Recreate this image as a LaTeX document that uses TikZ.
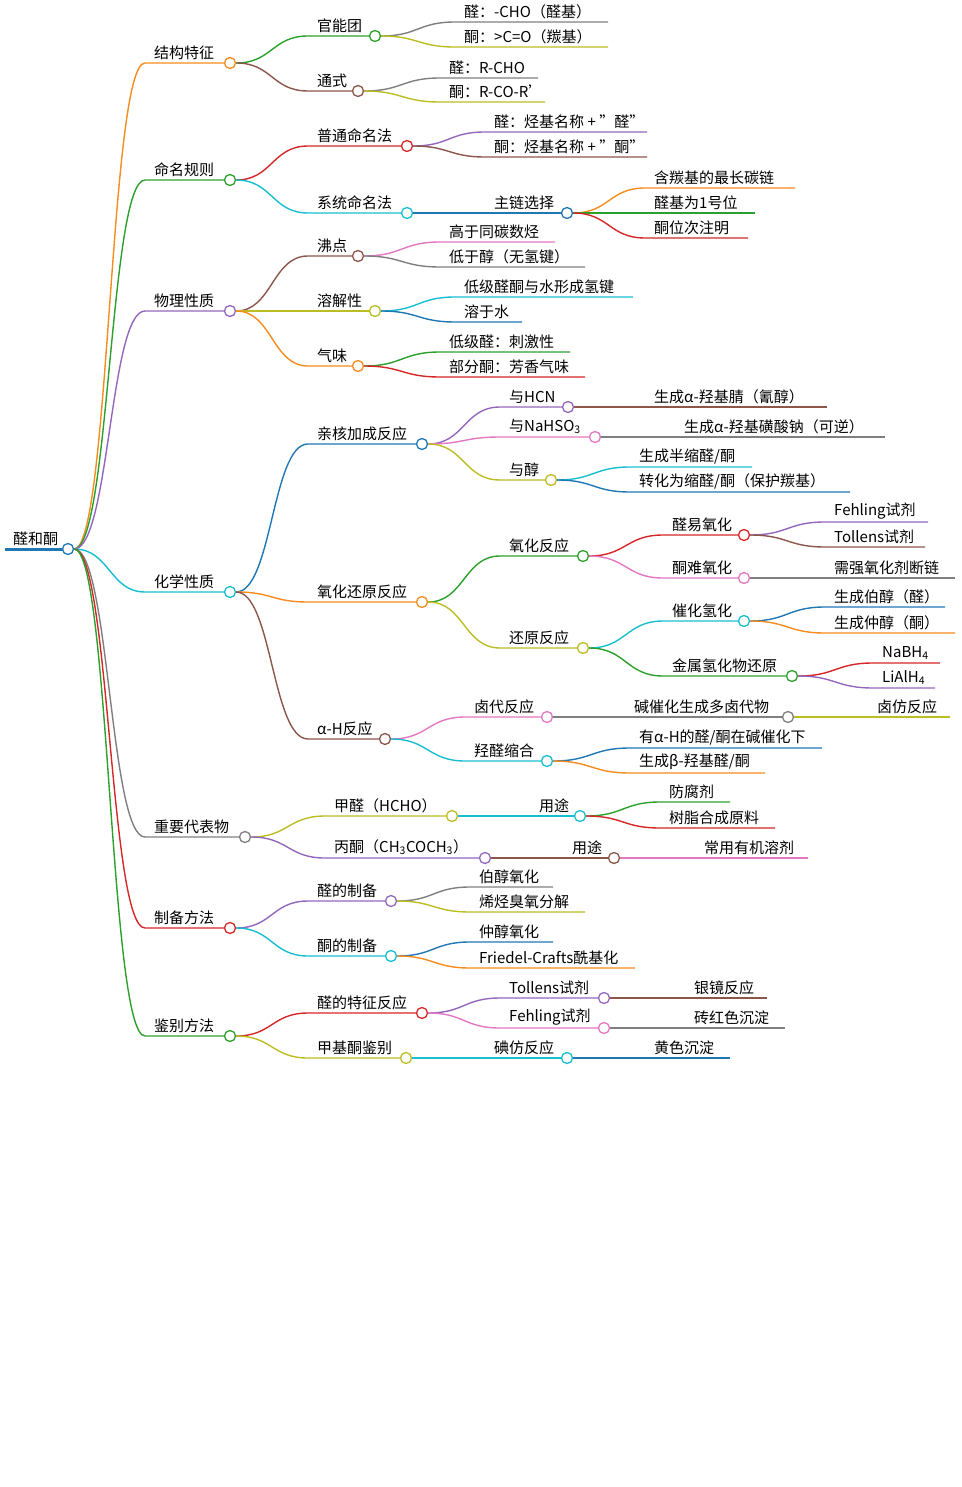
\documentclass[tikz,border=0pt]{standalone}
\usepackage{fontspec}
\setmainfont{Noto Sans CJK SC}
\usetikzlibrary{calc}

\definecolor{torange}{RGB}{245,140,30}
\definecolor{tgreen}{RGB}{44,160,44}
\definecolor{tpurple}{RGB}{148,103,189}
\definecolor{tcyan}{RGB}{23,190,207}
\definecolor{tgray}{RGB}{127,127,127}
\definecolor{tred}{RGB}{214,39,40}
\definecolor{tolive}{RGB}{188,189,34}
\definecolor{tbrown}{RGB}{140,86,75}
\definecolor{tblue}{RGB}{31,119,180}
\definecolor{tpink}{RGB}{227,119,194}

\tikzset{
  lbl/.style={font=\fontsize{15}{18}\selectfont, inner sep=1pt, anchor=south west},
  edge/.style={line width=1.4pt},
  dot/.style={circle, draw=#1, fill=white, line width=1.3pt, minimum size=11pt, inner sep=0pt}
}

% #1 name, #2 parent, #3 colour, #4 x start, #5 x end, #6 y, #7 text
\newcommand\mmleaf[7]{%
  \coordinate (#1-s) at (#4,#6);
  \coordinate (#1-e) at (#5,#6);
  \node[lbl] (#1-t) at (#4+8,#6-2) {#7};
  \draw[#3, edge] let \p1=(#2.east), \p2=(#1-s) in
    (\p1) .. controls (\x1*0.5+\x2*0.5,\y1) and (\x1*0.5+\x2*0.5,\y2) .. (#1-s) -- (#1-e);
}
\newcommand\mmbranch[7]{%
  \mmleaf{#1}{#2}{#3}{#4}{#5}{#6}{#7}
  \node[dot=#3] (#1) at (#1-e) {};
}
\newcommand\qq{\symbol{34}}

\begin{document}
\begin{tikzpicture}[x=1pt, y=-1pt]
  \useasboundingbox (0,0) rectangle (961,1487);

  % root
  \coordinate (root-s) at (5,549);
  \draw[tblue, line width=3pt] (root-s) -- (68,549);
  \node[lbl] (root-t) at (12,547) {醛和酮};
  \node[dot=tblue] (root) at (68,549) {};

  % level 1
  \mmbranch{jgtz}{root}{torange}{145}{230}{63}{结构特征}
  \mmbranch{mmgz}{root}{tgreen}{145}{230}{180}{命名规则}
  \mmbranch{wlxz}{root}{tpurple}{145}{230}{311}{物理性质}
  \mmbranch{hxxz}{root}{tcyan}{145}{230}{592}{化学性质}
  \mmbranch{zydb}{root}{tgray}{145}{245}{837}{重要代表物}
  \mmbranch{zbff}{root}{tred}{145}{230}{928}{制备方法}
  \mmbranch{jbff}{root}{tgreen}{145}{230}{1036}{鉴别方法}

  % structure
  \mmbranch{gnt}{jgtz}{tgreen}{308}{375}{36}{官能团}
  \mmbranch{tsh}{jgtz}{tbrown}{308}{358}{91}{通式}
  \mmleaf{a1}{gnt}{tgray}{455}{608}{22}{醛：-CHO（醛基）}
  \mmleaf{a2}{gnt}{tolive}{455}{608}{47}{酮：>C=O（羰基）}
  \mmleaf{a3}{tsh}{tgray}{440}{538}{78}{醛：R-CHO}
  \mmleaf{a4}{tsh}{tolive}{440}{545}{102}{酮：R-CO-R'}

  % naming
  \mmbranch{ptmm}{mmgz}{tred}{308}{407}{146}{普通命名法}
  \mmbranch{xtmm}{mmgz}{tcyan}{308}{407}{213}{系统命名法}
  \mmleaf{b1}{ptmm}{tpurple}{485}{647}{132}{醛：烃基名称 + \qq 醛\qq}
  \mmleaf{b2}{ptmm}{tbrown}{485}{647}{157}{酮：烃基名称 + \qq 酮\qq}
  \mmbranch{zlxz}{xtmm}{tblue}{485}{567}{213}{主链选择}
  \mmleaf{b3}{zlxz}{torange}{645}{795}{188}{含羰基的最长碳链}
  \mmleaf{b4}{zlxz}{tgreen}{645}{755}{213}{醛基为1号位}
  \mmleaf{b5}{zlxz}{tred}{645}{748}{238}{酮位次注明}

  % physical
  \mmbranch{fd}{wlxz}{tbrown}{308}{358}{256}{沸点}
  \mmbranch{rjx}{wlxz}{tolive}{308}{375}{311}{溶解性}
  \mmbranch{qw}{wlxz}{torange}{308}{358}{366}{气味}
  \mmleaf{c1}{fd}{tpink}{440}{555}{242}{高于同碳数烃}
  \mmleaf{c2}{fd}{tgray}{440}{585}{267}{低于醇（无氢键）}
  \mmleaf{c3}{rjx}{tcyan}{455}{633}{297}{低级醛酮与水形成氢键}
  \mmleaf{c4}{rjx}{tblue}{455}{522}{322}{溶于水}
  \mmleaf{c5}{qw}{tgreen}{440}{570}{352}{低级醛：刺激性}
  \mmleaf{c6}{qw}{tred}{440}{585}{377}{部分酮：芳香气味}

  % chemical
  \mmbranch{hhjc}{hxxz}{tblue}{308}{422}{444}{亲核加成反应}
  \mmbranch{yhhy}{hxxz}{torange}{308}{422}{602}{氧化还原反应}
  \mmbranch{ahfy}{hxxz}{tbrown}{308}{385}{739}{α-H反应}
  \mmbranch{yhcn}{hhjc}{tpurple}{500}{568}{407}{与HCN}
  \mmbranch{ynah}{hhjc}{tpink}{500}{595}{437}{与NaHSO\textsubscript{3}}
  \mmbranch{yc}{hhjc}{tolive}{500}{551}{480}{与醇}
  \mmleaf{d1}{yhcn}{tbrown}{645}{827}{407}{生成α-羟基腈（氰醇）}
  \mmleaf{d2}{ynah}{tgray}{675}{885}{437}{生成α-羟基磺酸钠（可逆）}
  \mmleaf{d3}{yc}{tcyan}{630}{752}{467}{生成半缩醛/酮}
  \mmleaf{d4}{yc}{tblue}{630}{850}{492}{转化为缩醛/酮（保护羰基）}
  \mmbranch{yhfy}{yhhy}{tgreen}{500}{583}{556}{氧化反应}
  \mmbranch{hyfy}{yhhy}{tolive}{500}{583}{648}{还原反应}
  \mmbranch{qyyh}{yhfy}{tred}{663}{744}{535}{醛易氧化}
  \mmbranch{tnyh}{yhfy}{tpink}{663}{744}{578}{酮难氧化}
  \mmleaf{e1}{qyyh}{tpurple}{825}{928}{522}{Fehling试剂}
  \mmleaf{e2}{qyyh}{tbrown}{825}{925}{547}{Tollens试剂}
  \mmleaf{e3}{tnyh}{tgray}{825}{955}{578}{需强氧化剂断链}
  \mmbranch{chqh}{hyfy}{tcyan}{663}{744}{621}{催化氢化}
  \mmbranch{jsqh}{hyfy}{tgreen}{663}{792}{676}{金属氢化物还原}
  \mmleaf{e4}{chqh}{tblue}{825}{945}{607}{生成伯醇（醛）}
  \mmleaf{e5}{chqh}{torange}{825}{955}{633}{生成仲醇（酮）}
  \mmleaf{e6}{jsqh}{tred}{873}{940}{663}{NaBH\textsubscript{4}}
  \mmleaf{e7}{jsqh}{tpurple}{873}{935}{688}{LiAlH\textsubscript{4}}
  \mmbranch{ldfy}{ahfy}{tpink}{465}{547}{717}{卤代反应}
  \mmbranch{qqsh}{ahfy}{tcyan}{465}{547}{761}{羟醛缩合}
  \mmbranch{jcdl}{ldfy}{tgray}{625}{788}{717}{碱催化生成多卤代物}
  \mmleaf{f1}{jcdl}{tolive}{868}{950}{717}{卤仿反应}
  \mmleaf{f2}{qqsh}{tblue}{630}{822}{748}{有α-H的醛/酮在碱催化下}
  \mmleaf{f3}{qqsh}{torange}{630}{765}{773}{生成β-羟基醛/酮}

  % representatives
  \mmbranch{jq}{zydb}{tolive}{325}{452}{816}{甲醛（HCHO）}
  \mmbranch{bt}{zydb}{tpurple}{325}{485}{858}{丙酮（CH\textsubscript{3}COCH\textsubscript{3}）}
  \mmbranch{yt1}{jq}{tcyan}{530}{580}{816}{用途}
  \mmbranch{yt2}{bt}{tbrown}{563}{614}{858}{用途}
  \mmleaf{g1}{yt1}{tgreen}{660}{730}{802}{防腐剂}
  \mmleaf{g2}{yt1}{tred}{660}{775}{828}{树脂合成原料}
  \mmleaf{g3}{yt2}{tpink}{695}{808}{858}{常用有机溶剂}

  % preparation
  \mmbranch{qzb}{zbff}{tpurple}{308}{391}{901}{醛的制备}
  \mmbranch{tzb}{zbff}{tcyan}{308}{391}{956}{酮的制备}
  \mmleaf{h1}{qzb}{tgray}{470}{553}{887}{伯醇氧化}
  \mmleaf{h2}{qzb}{tolive}{470}{585}{912}{烯烃臭氧分解}
  \mmleaf{h3}{tzb}{tblue}{470}{553}{942}{仲醇氧化}
  \mmleaf{h4}{tzb}{torange}{470}{635}{968}{Friedel-Crafts酰基化}

  % identification
  \mmbranch{qtz}{jbff}{tred}{308}{422}{1013}{醛的特征反应}
  \mmbranch{jjt}{jbff}{tolive}{308}{406}{1058}{甲基酮鉴别}
  \mmbranch{tls}{qtz}{tpurple}{500}{604}{998}{Tollens试剂}
  \mmbranch{fhl}{qtz}{tpink}{500}{604}{1028}{Fehling试剂}
  \mmleaf{i1}{tls}{tbrown}{685}{767}{998}{银镜反应}
  \mmleaf{i2}{fhl}{tgray}{685}{785}{1028}{砖红色沉淀}
  \mmbranch{dfy}{jjt}{tcyan}{485}{567}{1058}{碘仿反应}
  \mmleaf{i3}{dfy}{tblue}{645}{730}{1058}{黄色沉淀}
\end{tikzpicture}
\end{document}
